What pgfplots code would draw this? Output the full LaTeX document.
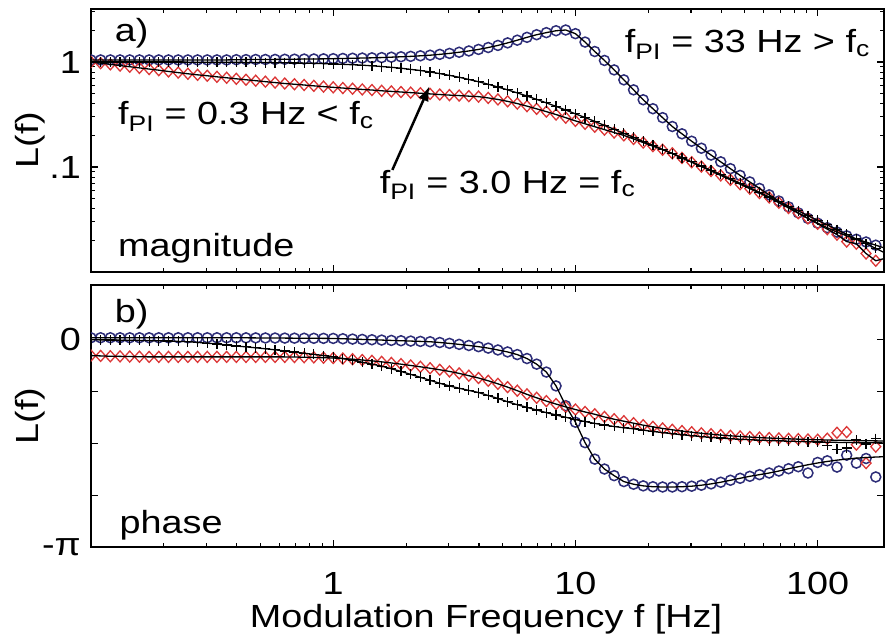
\documentclass[border=0pt]{standalone}
\usepackage{fontspec}
\setmainfont{Liberation Sans}[FakeStretch=1.18]
\usepackage{pgfplots}
\pgfplotsset{compat=1.18}
\usepackage{pgfplotstable}
\usetikzlibrary{arrows.meta}

\definecolor{cblue}{RGB}{45,45,120}
\definecolor{cred}{RGB}{220,55,55}
\newcommand{\ff}{\fontsize{32bp}{38bp}\selectfont}

% f: frequency [Hz]; mb/mk/mr: magnitude (33 Hz, 3.0 Hz, 0.3 Hz);
% pb/pk/pr: phase [rad]; pbf/pkf/prf: fitted phase
\pgfplotstableread{
f      mb     mk     mr     pb     pk     pr     pbf    pkf    prf
0.1000 1.047  1.000  1.000  0.030  0.000  -0.240 0.030  0.000  -0.240
0.1096 1.047  1.000  0.975  0.030  -0.002 -0.245 0.030  -0.002 -0.245
0.1202 1.047  1.000  0.951  0.030  -0.004 -0.250 0.030  -0.004 -0.250
0.1318 1.047  1.000  0.925  0.030  -0.006 -0.252 0.030  -0.006 -0.252
0.1445 1.047  1.000  0.902  0.030  -0.008 -0.255 0.030  -0.008 -0.255
0.1585 1.047  1.000  0.879  0.030  -0.010 -0.257 0.030  -0.010 -0.257
0.1738 1.047  1.000  0.857  0.030  -0.013 -0.260 0.030  -0.013 -0.260
0.1905 1.047  1.000  0.836  0.030  -0.016 -0.260 0.030  -0.016 -0.260
0.2089 1.047  1.000  0.813  0.030  -0.020 -0.260 0.030  -0.020 -0.260
0.2291 1.047  1.000  0.793  0.030  -0.025 -0.260 0.030  -0.025 -0.260
0.2512 1.047  0.997  0.773  0.030  -0.030 -0.260 0.030  -0.030 -0.260
0.2754 1.047  0.997  0.755  0.030  -0.040 -0.260 0.030  -0.040 -0.260
0.3020 1.047  0.996  0.740  0.030  -0.052 -0.260 0.030  -0.052 -0.260
0.3311 1.047  0.995  0.723  0.030  -0.065 -0.260 0.030  -0.065 -0.260
0.3631 1.047  0.994  0.708  0.030  -0.080 -0.260 0.030  -0.080 -0.260
0.3981 1.052  0.993  0.692  0.030  -0.095 -0.260 0.030  -0.095 -0.260
0.4365 1.054  0.991  0.678  0.029  -0.108 -0.260 0.029  -0.108 -0.260
0.4786 1.057  0.991  0.664  0.028  -0.122 -0.260 0.028  -0.122 -0.260
0.5248 1.057  0.989  0.650  0.027  -0.137 -0.260 0.027  -0.137 -0.260
0.5754 1.059  0.986  0.637  0.026  -0.153 -0.260 0.026  -0.153 -0.260
0.6310 1.062  0.984  0.624  0.025  -0.170 -0.260 0.025  -0.170 -0.260
0.6918 1.064  0.980  0.614  0.024  -0.187 -0.262 0.024  -0.187 -0.262
0.7586 1.067  0.975  0.604  0.023  -0.204 -0.265 0.023  -0.204 -0.265
0.8318 1.069  0.971  0.593  0.022  -0.222 -0.268 0.022  -0.222 -0.268
0.9120 1.072  0.966  0.583  0.021  -0.240 -0.272 0.021  -0.240 -0.272
1.000  1.076  0.959  0.574  0.020  -0.260 -0.277 0.020  -0.260 -0.277
1.096  1.081  0.951  0.565  0.015  -0.285 -0.285 0.015  -0.285 -0.285
1.202  1.086  0.942  0.557  0.010  -0.312 -0.295 0.010  -0.312 -0.295
1.318  1.091  0.933  0.548  0.005  -0.340 -0.307 0.005  -0.340 -0.307
1.445  1.096  0.920  0.541  0.000  -0.370 -0.320 0.000  -0.370 -0.320
1.585  1.102  0.906  0.532  -0.005 -0.400 -0.335 -0.005 -0.400 -0.335
1.738  1.112  0.891  0.525  -0.010 -0.440 -0.352 -0.010 -0.440 -0.352
1.905  1.122  0.873  0.518  -0.015 -0.480 -0.370 -0.015 -0.480 -0.370
2.089  1.132  0.851  0.511  -0.020 -0.525 -0.390 -0.020 -0.525 -0.390
2.291  1.146  0.830  0.504  -0.025 -0.570 -0.410 -0.025 -0.570 -0.410
2.512  1.161  0.804  0.497  -0.030 -0.615 -0.432 -0.030 -0.615 -0.432
2.754  1.183  0.776  0.490  -0.042 -0.660 -0.455 -0.042 -0.660 -0.455
3.020  1.208  0.746  0.484  -0.055 -0.700 -0.480 -0.055 -0.700 -0.480
3.311  1.239  0.716  0.479  -0.070 -0.735 -0.510 -0.070 -0.735 -0.510
3.631  1.274  0.682  0.473  -0.087 -0.768 -0.545 -0.087 -0.768 -0.545
3.981  1.318  0.649  0.468  -0.105 -0.800 -0.580 -0.105 -0.800 -0.580
4.365  1.374  0.614  0.455  -0.127 -0.845 -0.622 -0.127 -0.845 -0.622
4.786  1.439  0.578  0.440  -0.155 -0.890 -0.668 -0.155 -0.890 -0.668
5.248  1.521  0.543  0.422  -0.185 -0.940 -0.718 -0.185 -0.940 -0.718
5.754  1.614  0.508  0.402  -0.225 -0.985 -0.772 -0.225 -0.985 -0.772
6.310  1.718  0.474  0.380  -0.285 -1.025 -0.828 -0.285 -1.025 -0.828
6.918  1.820  0.441  0.358  -0.370 -1.065 -0.880 -0.370 -1.065 -0.880
7.586  1.905  0.408  0.337  -0.490 -1.105 -0.930 -0.490 -1.105 -0.930
8.318  1.986  0.378  0.316  -0.700 -1.140 -0.975 -0.700 -1.140 -0.975
9.120  2.018  0.349  0.295  -1.000 -1.175 -1.018 -1.000 -1.175 -1.018
10.00  1.862  0.321  0.275  -1.250 -1.210 -1.058 -1.250 -1.210 -1.058
10.96  1.549  0.296  0.258  -1.560 -1.240 -1.095 -1.560 -1.240 -1.095
12.02  1.259  0.272  0.242  -1.810 -1.268 -1.130 -1.810 -1.268 -1.130
13.18  1.035  0.249  0.227  -1.960 -1.293 -1.170 -1.960 -1.293 -1.170
14.45  0.841  0.229  0.213  -2.060 -1.315 -1.205 -2.060 -1.315 -1.205
15.85  0.676  0.209  0.200  -2.150 -1.335 -1.235 -2.150 -1.335 -1.235
17.38  0.543  0.192  0.185  -2.190 -1.350 -1.265 -2.190 -1.350 -1.265
19.05  0.437  0.175  0.171  -2.215 -1.370 -1.295 -2.215 -1.370 -1.295
20.89  0.359  0.161  0.158  -2.228 -1.390 -1.320 -2.228 -1.390 -1.320
22.91  0.295  0.147  0.146  -2.232 -1.408 -1.345 -2.232 -1.408 -1.345
25.12  0.243  0.134  0.135  -2.232 -1.425 -1.365 -2.232 -1.425 -1.365
27.54  0.207  0.122  0.122  -2.228 -1.440 -1.385 -2.228 -1.440 -1.385
30.20  0.176  0.112  0.111  -2.220 -1.455 -1.402 -2.220 -1.455 -1.402
33.11  0.151  0.102  0.101  -2.205 -1.468 -1.418 -2.205 -1.468 -1.418
36.31  0.130  0.0931 0.0916 -2.185 -1.480 -1.432 -2.185 -1.480 -1.432
39.81  0.112  0.0851 0.0832 -2.160 -1.490 -1.445 -2.160 -1.490 -1.445
43.65  0.0964 0.0773 0.0755 -2.130 -1.500 -1.456 -2.130 -1.500 -1.456
47.86  0.0832 0.0700 0.0686 -2.100 -1.508 -1.466 -2.100 -1.508 -1.466
52.48  0.0721 0.0634 0.0622 -2.070 -1.515 -1.475 -2.070 -1.515 -1.475
57.54  0.0625 0.0573 0.0565 -2.045 -1.522 -1.483 -2.045 -1.522 -1.483
63.10  0.0543 0.0518 0.0513 -2.020 -1.528 -1.490 -2.020 -1.528 -1.490
69.18  0.0474 0.0468 0.0457 -1.990 -1.533 -1.496 -1.990 -1.533 -1.496
75.86  0.0417 0.0423 0.0407 -1.955 -1.538 -1.502 -1.955 -1.538 -1.502
83.18  0.0366 0.0382 0.0363 -1.925 -1.542 -1.507 -1.925 -1.542 -1.507
91.20  0.0324 0.0344 0.0324 -2.020 -1.546 -1.512 -1.895 -1.546 -1.512
100.0  0.0292 0.0310 0.0288 -1.860 -1.550 -1.516 -1.868 -1.550 -1.516
109.6  0.0264 0.0281 0.0256 -1.835 -1.600 -1.500 -1.845 -1.553 -1.520
120.2  0.0240 0.0253 0.0227 -1.930 -1.660 -1.410 -1.825 -1.556 -1.523
131.8  0.0221 0.0229 0.0195 -1.750 -1.640 -1.400 -1.808 -1.558 -1.526
144.5  0.0205 0.0206 0.0186 -1.870 -1.520 -1.590 -1.795 -1.560 -1.529
158.5  0.0193 0.0186 0.0150 -1.800 -1.580 -1.870 -1.785 -1.562 -1.531
173.8  0.0180 0.0168 0.0128 -2.080 -1.500 -1.620 -1.778 -1.563 -1.533
190.5  0.0168 0.0151 0.0135 -1.970 -1.560 -1.540 -1.772 -1.564 -1.535
}\bode

\pgfplotsset{
  every axis/.append style={
    scale only axis, width=793bp,
    xmin=0.1, xmax=188,
    axis line style={line width=1.5bp},
    every tick/.style={black, line width=1.1bp},
    major tick length=7bp, minor tick length=4bp,
    tick label style={font=\ff},
    xtick={1,10,100},
    minor xtick={0.2,0.3,0.4,0.5,0.6,0.7,0.8,0.9,2,3,4,5,6,7,8,9,20,30,40,50,60,70,80,90},
    clip marker paths=true,
  },
  bcirc/.style={only marks, mark=o, mark size=5bp, cblue, mark options={line width=1.5bp}},
  rdiam/.style={only marks, mark=diamond, mark size=5.5bp, cred, mark options={line width=1.3bp, xscale=1.2}},
  kcross/.style={only marks, mark=+, mark size=5bp, black, mark options={line width=1.2bp}},
  kline/.style={black, line width=1.3bp, no marks},
}

\begin{document}
\begin{tikzpicture}[x=1bp, y=1bp]
\useasboundingbox (0,0) rectangle (885,637);

% magnitude
\begin{semilogxaxis}[at={(91bp,365bp)}, anchor=south west, height=263bp,
    ymode=log, ymin=0.01, ymax=3.2,
    ytick={0.1,1}, yticklabels={.1,1},
    minor ytick={0.02,0.03,0.04,0.05,0.06,0.07,0.08,0.09,0.2,0.3,0.4,0.5,0.6,0.7,0.8,0.9,2,3},
    xticklabels={},
    yticklabel style={inner sep=0pt, xshift=-10bp}]
\addplot[bcirc] table[x=f, y=mb] {\bode};
\addplot[rdiam] table[x=f, y=mr] {\bode};
\addplot[kcross] table[x=f, y=mk] {\bode};
\addplot[kline] table[x=f, y=mb] {\bode};
\addplot[kline] table[x=f, y=mr] {\bode};
\addplot[kline] table[x=f, y=mk] {\bode};
\node[font=\ff, inner sep=0pt, anchor=base west] at (rel axis cs:0.030,0.875) {a)};
\node[font=\ff, inner sep=0pt, anchor=base west] at (rel axis cs:0.034,0.559) {f\textsubscript{PI} = 0.3 Hz < f\textsubscript{c}};
\node[font=\ff, inner sep=0pt, anchor=base west] at (rel axis cs:0.364,0.300) {f\textsubscript{PI} = 3.0 Hz = f\textsubscript{c}};
\node[font=\ff, inner sep=0pt, anchor=base west] at (rel axis cs:0.673,0.833) {f\textsubscript{PI} = 33 Hz > f\textsubscript{c}};
\node[font=\ff, inner sep=0pt, anchor=base west] at (rel axis cs:0.034,0.057) {magnitude};
\draw[-{Latex[length=15bp,width=11bp]}, line width=2.5bp]
  (rel axis cs:0.380,0.388) -- (rel axis cs:0.427,0.707);
\end{semilogxaxis}

% phase
\begin{semilogxaxis}[at={(91bp,90bp)}, anchor=south west, height=262bp,
    ymin=-3.14159, ymax=0.83,
    ytick={-3.14159,-2.35619,-1.5708,-0.7854,0},
    yticklabels={-π,,,,0},
    xticklabels={1,10,100},
    xticklabel style={anchor=base, yshift=-48bp},
    yticklabel style={inner sep=0pt, xshift=-10bp}]
\addplot[bcirc] table[x=f, y=pb] {\bode};
\addplot[rdiam] table[x=f, y=pr] {\bode};
\addplot[kcross] table[x=f, y=pk] {\bode};
\addplot[kline] table[x=f, y=pbf] {\bode};
\addplot[kline] table[x=f, y=prf] {\bode};
\addplot[kline] table[x=f, y=pkf] {\bode};
\node[font=\ff, inner sep=0pt, anchor=base west] at (rel axis cs:0.030,0.855) {b)};
\node[font=\ff, inner sep=0pt, anchor=base west] at (rel axis cs:0.036,0.053) {phase};
\end{semilogxaxis}

\node[font=\ff, rotate=90] at (30,497) {L(f)};
\node[font=\ff, rotate=90] at (30,221) {L(f)};
\node[font=\ff, anchor=base] at (486,9) {Modulation Frequency f [Hz]};
\end{tikzpicture}
\end{document}
